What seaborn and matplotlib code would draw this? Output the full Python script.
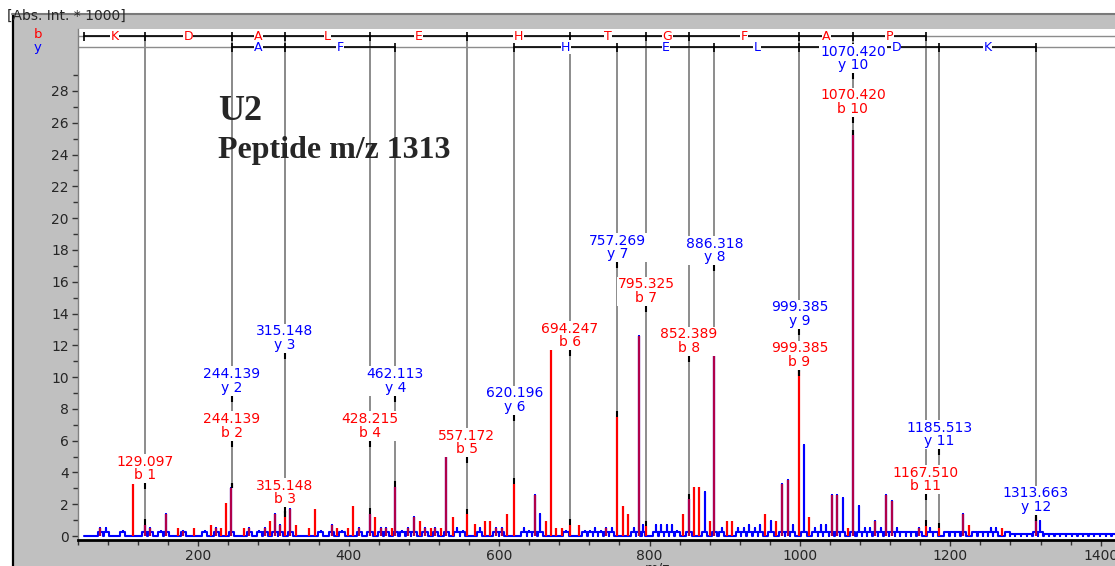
import numpy as np
import pandas as pd
import seaborn as sns
import matplotlib
matplotlib.use('Agg')
import matplotlib.pyplot as plt
from matplotlib.lines import Line2D
from matplotlib.patches import Rectangle

# --- spectrum data (m/z, intensity * 1000) ---
red_mz = [69.7, 113.7, 129.1, 135.8, 157, 172.4, 179.9, 194.4, 216.5, 224,
          230.5, 237, 244.1, 260.5, 268, 289.2, 295, 302, 309, 315.1,
          322.5, 329.5, 347.4, 354.9, 377.3, 384.9, 398.5, 406, 414, 428.2,
          435.1, 442.6, 450, 457.2, 462.1, 479.2, 486.7, 494.2, 501.3, 508.8,
          515.4, 522.8, 530, 538.3, 557.2, 567.4, 581.5, 588.5, 596, 603.5,
          611, 620.2, 647.6, 661.7, 668.8, 676.2, 683.8, 694.2, 705.9, 742.4,
          757.3, 764.5, 771.1, 786, 795.3, 845.1, 852.4, 859.3, 865.9, 880.4,
          886.3, 903.3, 910, 954, 968.5, 976.1, 983.6, 999.4, 1012.7, 1042.2,
          1049.7, 1064.3, 1070.4, 1100.4, 1114.9, 1122.5, 1159, 1167.5, 1185.5, 1217.2,
          1225.1, 1268.4, 1313.7]
red_int = [0.5, 3.3, 0.7, 0.5, 1.4, 0.5, 0.3, 0.5, 0.7, 0.5,
           0.5, 2.1, 3.0, 0.5, 0.5, 0.5, 0.96, 1.4, 0.7, 1.2,
           1.7, 0.7, 0.5, 1.7, 0.7, 0.5, 0.5, 1.9, 0.5, 1.4,
           1.2, 0.5, 0.5, 0.5, 3.1, 0.5, 1.2, 0.96, 0.5, 0.5,
           0.5, 0.5, 4.95, 1.2, 1.36, 0.73, 0.96, 0.96, 0.5, 0.5,
           1.4, 3.3, 2.6, 0.96, 11.7, 0.5, 0.5, 0.7, 0.7, 0.5,
           7.5, 1.9, 1.4, 12.6, 0.6, 1.4, 2.3, 3.1, 3.1, 0.96,
           11.3, 0.96, 0.96, 1.4, 0.96, 3.3, 3.5, 10.3, 1.2, 2.6,
           2.6, 0.5, 25.2, 0.96, 2.6, 2.2, 0.5, 0.63, 0.5, 1.4,
           0.7, 0.5, 1.2]

blue_mz = [69.7, 77.6, 99.2, 129.1, 135.8, 150.4, 157, 179.9, 208.5, 224,
           244.1, 268, 281.3, 289.2, 302, 309, 322.5, 362.8, 377.3, 391,
           414, 428.2, 442.6, 450, 462.1, 471.2, 479.2, 486.7, 501.3, 515.4,
           530, 544, 551.5, 574, 596, 603.5, 633.1, 640.1, 647.6, 654.3,
           689, 713.8, 721.2, 727.8, 735, 742.4, 749.9, 779, 786, 791,
           808.5, 815.1, 822.6, 829.3, 837.2, 852.4, 873.3, 886.3, 895.8, 917.9,
           925.4, 932.8, 940.8, 947.4, 961.5, 976.1, 983.6, 990.6, 1005.6, 1020.1,
           1027.6, 1034.6, 1042.2, 1049.7, 1056.7, 1070.4, 1078.8, 1086.2, 1092.8, 1100.4,
           1107.4, 1114.9, 1122.5, 1129.5, 1137, 1144.5, 1151.5, 1159, 1173.1, 1180.1,
           1195.2, 1203.1, 1209.7, 1217.2, 1231.7, 1239.7, 1247.2, 1253.8, 1260.4, 1275.9,
           1283, 1290, 1298, 1305, 1313.7, 1319.9, 1328, 1335, 1343, 1350,
           1358, 1365, 1373, 1380, 1388, 1395, 1403, 1410, 1418, 1425, 1433]
blue_int = [0.5, 0.5, 0.3, 0.7, 0.5, 0.3, 1.4, 0.3, 0.3, 0.5,
            3.0, 0.5, 0.3, 0.5, 1.4, 0.7, 1.7, 0.3, 0.7, 0.3,
            0.5, 1.4, 0.5, 0.5, 3.1, 0.3, 0.5, 1.2, 0.5, 0.5,
            4.95, 0.5, 0.3, 0.5, 0.5, 0.5, 0.5, 0.3, 2.6, 1.4,
            0.3, 0.3, 0.3, 0.5, 0.3, 0.5, 0.5, 0.5, 12.6, 0.7,
            0.7, 0.7, 0.7, 0.7, 0.3, 2.3, 2.8, 11.3, 0.5, 0.5,
            0.5, 0.7, 0.5, 0.7, 0.96, 3.3, 3.5, 0.7, 5.7, 0.5,
            0.7, 0.7, 2.6, 2.6, 2.4, 25.2, 1.9, 0.5, 0.5, 0.96,
            0.5, 2.6, 2.2, 0.5, 0.25, 0.25, 0.25, 0.5, 0.5, 0.25,
            0.25, 0.25, 0.25, 1.4, 0.25, 0.25, 0.25, 0.5, 0.5, 0.25,
            0.1, 0.1, 0.1, 0.1, 1.0, 0.96, 0.1, 0.1, 0.1, 0.1,
            0.1, 0.1, 0.1, 0.1, 0.1, 0.1, 0.1, 0.1, 0.1, 0.1, 0.1]

# fragment ions
b_mz = [129.097, 244.139, 315.148, 428.215, 557.172, 694.247, 795.325,
        852.389, 999.385, 1070.420, 1167.510]
b_names = ['b 1', 'b 2', 'b 3', 'b 4', 'b 5', 'b 6', 'b 7', 'b 8', 'b 9', 'b 10', 'b 11']
b_res = ['K', 'D', 'A', 'L', 'E', 'H', 'T', 'G', 'F', 'A', 'P']
y_mz = [244.139, 315.148, 462.113, 620.196, 757.269, 886.318, 999.385,
        1070.420, 1185.513, 1313.663]
y_names = ['y 2', 'y 3', 'y 4', 'y 6', 'y 7', 'y 8', 'y 9', 'y 10', 'y 11', 'y 12']
# None = unassigned gap, '' = letter hidden under a label
y_res = ['A', 'F', None, 'H', 'E', 'L', '', 'D', 'K']

# layout: label centre heights
b_label_y = [4.25, 6.92, 2.74, 6.92, 5.88, 12.61, 15.41, 12.26, 11.38, 27.3, 3.55]
y_label_y = [9.75, 12.45, 9.75, 8.55, 18.14, 17.96, 13.96, 30.03, 6.38, 2.26]

W, H = 1115, 566
XMIN, XMAX = 47.6, 1440
PXM = 0.7561
B_ROW, Y_ROW = 31.45, 30.75
RED, BLUE, PURPLE, GREY = '#ff0000', '#0000ff', '#b0004a', '#8c8c8c'

sns.set_style('white')
plt.rcParams['font.family'] = ['DejaVu Sans']

fig = plt.figure(figsize=(W / 100, H / 100), dpi=100)
fig.patch.set_facecolor('white')
fig.add_artist(Rectangle((12 / W, 0), 1 - 12 / W, 1 - 14 / H, transform=fig.transFigure,
                         facecolor='#c0c0c0', edgecolor='none', zorder=-1))
fig.add_artist(Line2D([13 / W, 13 / W], [0, 1 - 14 / H], color='black', lw=1.6,
                      transform=fig.transFigure, zorder=-1))
fig.add_artist(Line2D([12 / W, 1], [1 - 14 / H, 1 - 14 / H], color='#7a7a7a', lw=1.5,
                      transform=fig.transFigure, zorder=-1))
fig.text(7 / W, 1 - 16 / H, '[Abs. Int. * 1000]', fontsize=10, va='center', ha='left')
fig.text(38 / W, 1 - 35 / H, 'b', color=RED, fontsize=9.5, va='center', ha='center')
fig.text(38 / W, 1 - 47 / H, 'y', color=BLUE, fontsize=9.5, va='center', ha='center')
fig.text(657 / W, 1 - 561 / H, 'm/z', fontsize=10, va='top', ha='center')

ax = fig.add_axes([78 / W, (H - 540) / H, (XMAX - XMIN) * PXM / W, 511 / H])
ax.set_facecolor('white')
ax.set_xlim(XMIN, XMAX)
ax.set_ylim(-0.25, 31.9)

# blue trace: baseline pulses with sticks
xs, ys = [XMIN], [0.0]
for m, h in zip(blue_mz, blue_int):
    base = min(0.25, h)
    xs += [m - 3.5, m - 3.5, m, m, m, m + 3.5, m + 3.5]
    ys += [0, base, base, h, base, base, 0]
xs.append(XMAX)
ys.append(0.0)
trace = pd.DataFrame({'mz': xs, 'int': ys})
sns.lineplot(data=trace, x='mz', y='int', sort=False, estimator=None, ax=ax,
             color=BLUE, lw=1.5, zorder=2, legend=False)

# red sticks (purple where both spectra have the peak)
blue_set = set(blue_mz)
red_cols = [PURPLE if m in blue_set else RED for m in red_mz]
ax.vlines(red_mz, 0, red_int, colors=red_cols, lw=1.6, zorder=3)


def peak_at(m):
    h = [i for x, i in zip(red_mz + blue_mz, red_int + blue_int) if abs(x - m) < 0.5]
    return max(h) if h else 0.0


# annotation lines and labels
for ions, names, ly, row, col in [(b_mz, b_names, b_label_y, B_ROW, RED),
                                  (y_mz, y_names, y_label_y, Y_ROW, BLUE)]:
    for m, n, c in zip(ions, names, ly):
        h = peak_at(m)
        ax.vlines(m, h, row, color=GREY, lw=1.4, zorder=1)
        ax.text(m, c, f'{m:.3f}\n{n}', color=col, fontsize=10, ha='center', va='center',
                linespacing=0.95, zorder=6,
                bbox=dict(facecolor='white', edgecolor='none', pad=0.6))
        ax.vlines(m, c - 1.3, c - 0.9, color='black', lw=1.5, zorder=5)
        if h > 0:
            ax.vlines(m, h, h + 0.35, color='black', lw=1.5, zorder=5)

# sequence rows
ax.axhline(B_ROW, color=GREY, lw=1, zorder=1)
ax.axhline(Y_ROW, color=GREY, lw=1, zorder=1)
b_edges = [XMIN] + b_mz
for lo, hi, r in zip(b_edges[:-1], b_edges[1:], b_res):
    ax.plot([lo, hi], [B_ROW, B_ROW], color='black', lw=1.2, zorder=2)
    ax.text((lo + hi) / 2, B_ROW, r, color=RED, fontsize=9, ha='center', va='center',
            zorder=4, bbox=dict(facecolor='white', edgecolor='none', pad=0.3))
ax.vlines(b_edges, B_ROW - 0.28, B_ROW + 0.28, color='black', lw=1.2, zorder=3)
for lo, hi, r in zip(y_mz[:-1], y_mz[1:], y_res):
    if r is None:
        continue
    ax.plot([lo, hi], [Y_ROW, Y_ROW], color='black', lw=1.2, zorder=2)
    if r:
        ax.text((lo + hi) / 2, Y_ROW, r, color=BLUE, fontsize=9, ha='center', va='center',
                zorder=4, bbox=dict(facecolor='white', edgecolor='none', pad=0.3))
ax.vlines(y_mz, Y_ROW - 0.28, Y_ROW + 0.28, color='black', lw=1.2, zorder=3)

# title text
fig.text(218 / W, 1 - 120 / H, 'U2', fontsize=26, fontweight='bold',
         family='Liberation Serif', va='baseline', ha='left')
fig.text(218 / W, 1 - 158 / H, 'Peptide m/z 1313', fontsize=23, fontweight='bold',
         family='Liberation Serif', va='baseline', ha='left')

# axes styling
ax.set_xlabel('')
ax.set_ylabel('')
ax.set_yticks(range(0, 29, 2))
ax.set_yticks(range(1, 30, 2), minor=True)
ax.set_xticks(range(200, 1401, 200))
ax.set_xticks(range(40, 1441, 40), minor=True)
ax.tick_params(axis='both', which='both', direction='out', bottom=True, left=True,
               color='#333333', labelsize=10, pad=2)
ax.tick_params(which='major', length=4.5, width=1)
ax.tick_params(which='minor', length=3.5, width=1)
for s in ['top', 'right']:
    ax.spines[s].set_visible(False)
ax.spines['left'].set_color('#808080')
ax.spines['left'].set_linewidth(1)
ax.spines['bottom'].set_color('black')
ax.spines['bottom'].set_linewidth(2)

plt.savefig('out.png', dpi=100)
